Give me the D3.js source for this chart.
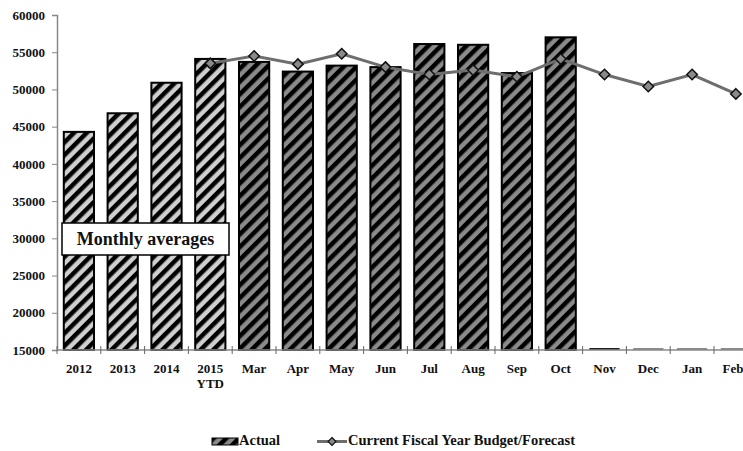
<!DOCTYPE html>
<html>
<head>
<meta charset="utf-8">
<script src="https://cdn.jsdelivr.net/npm/d3@7"></script>
<style>
  body { margin: 0; background: #fff; }
  text { font-family: "Liberation Serif", "DejaVu Serif", serif; font-weight: bold; fill: #111; }
</style>
</head>
<body>
<div id="chart"></div>
<script>
// categories along the x axis (second line of label after "|")
var categories = ["2012", "2013", "2014", "2015|YTD", "Mar", "Apr", "May", "Jun", "Jul", "Aug", "Sep", "Oct", "Nov", "Dec", "Jan", "Feb"];
// actual values (monthly averages for the years, then months); 0 = no data yet
var actual = [44300, 46800, 50900, 54100, 53700, 52400, 53200, 53000, 56100, 56000, 52200, 57000, 0, 0, 0, 0];
// budget / forecast line, starts at 2015 YTD
var budget = [null, null, null, 53500, 54500, 53400, 54800, 53000, 52000, 52600, 51700, 54100, 52000, 50400, 52000, 49400];
var yTicks = [15000, 20000, 25000, 30000, 35000, 40000, 45000, 50000, 55000, 60000];

var W = 743, H = 451;
var margin = {top: 15, left: 57};
var plotH = 335;
var band = 43.8;

var svg = d3.select("#chart").append("svg")
    .attr("width", W)
    .attr("height", H);

// hatch patterns: light for yearly averages, darker for months
var defs = svg.append("defs");
function hatch(id, stripe) {
    var p = defs.append("pattern")
        .attr("id", id)
        .attr("patternUnits", "userSpaceOnUse")
        .attr("width", 9).attr("height", 9)
        .attr("patternTransform", "rotate(45)");
    p.append("rect").attr("width", 9).attr("height", 9).attr("fill", stripe);
    p.append("rect").attr("width", 4.5).attr("height", 9).attr("fill", "#000");
}
hatch("hatchLight", "#cfcfcf");
hatch("hatchDark", "#8a8a8a");

var x = d3.scaleBand()
    .domain(categories)
    .range([margin.left, margin.left + band * categories.length])
    .paddingInner(0.31)
    .paddingOuter(0.155);

var y = d3.scaleLinear()
    .domain([15000, 60000])
    .range([margin.top + plotH, margin.top])
    .clamp(true);

// y axis
var yAxis = svg.append("g")
    .attr("transform", "translate(" + margin.left + ",0)")
    .call(d3.axisLeft(y).tickValues(yTicks).tickSize(5).tickPadding(7).tickFormat(d3.format("d")));
yAxis.select(".domain").attr("stroke", "#888").attr("stroke-width", 1.5);
yAxis.selectAll(".tick line").attr("stroke", "#888");
yAxis.selectAll("text").style("font-size", "13px").attr("fill", "#111");

// bars
var x0 = d3.scaleLinear().domain([0, categories.length]).range([margin.left, margin.left + band * categories.length]);
svg.append("g").selectAll("rect")
    .data(actual.map(function(v, i) { return {c: categories[i], v: v, i: i}; }).filter(function(d) { return d.v > 0; }))
    .enter().append("rect")
    .attr("x", function(d) { return x(d.c); })
    .attr("width", x.bandwidth())
    .attr("y", function(d) { return y(d.v); })
    .attr("height", function(d) { return y(15000) - y(d.v); })
    .attr("fill", function(d) { return d.i < 4 ? "url(#hatchLight)" : "url(#hatchDark)"; })
    .attr("stroke", "#000")
    .attr("stroke-width", 2);

// empty months: flat mark on the baseline
svg.append("g").selectAll("line")
    .data(actual.map(function(v, i) { return {c: categories[i], v: v, i: i}; }).filter(function(d) { return d.v === 0; }))
    .enter().append("line")
    .attr("x1", function(d) { return x(d.c); })
    .attr("x2", function(d) { return x(d.c) + x.bandwidth(); })
    .attr("y1", y(15000) - 1)
    .attr("y2", y(15000) - 1)
    .attr("stroke", function(d, i) { return i === 0 ? "#222" : "#666"; })
    .attr("stroke-width", function(d, i) { return i === 0 ? 2 : 1.5; });

// x axis
var xAxisG = svg.append("g").attr("transform", "translate(0," + y(15000) + ")");
xAxisG.append("line")
    .attr("x1", margin.left).attr("x2", W)
    .attr("stroke", "#888").attr("stroke-width", 1.5);
xAxisG.selectAll(".tk")
    .data(d3.range(categories.length + 1))
    .enter().append("line")
    .attr("x1", function(d) { return x0(d); })
    .attr("x2", function(d) { return x0(d); })
    .attr("y1", -4).attr("y2", 4)
    .attr("stroke", "#666");
var labels = xAxisG.selectAll(".lbl")
    .data(categories)
    .enter().append("text")
    .attr("text-anchor", "middle")
    .style("font-size", "13px");
labels.each(function(d) {
    var parts = d.split("|");
    var t = d3.select(this);
    parts.forEach(function(p, k) {
        t.append("tspan")
            .attr("x", Math.min(x(d) + x.bandwidth() / 2, W - 10))
            .attr("y", 22.5 + k * 15)
            .text(p);
    });
});

// budget/forecast line
var pts = budget.map(function(v, i) { return {c: categories[i], v: v}; }).filter(function(d) { return d.v !== null; });
var line = d3.line()
    .x(function(d) { return x(d.c) + x.bandwidth() / 2; })
    .y(function(d) { return y(d.v); });
svg.append("path")
    .datum(pts)
    .attr("fill", "none")
    .attr("stroke", "#6e6e6e")
    .attr("stroke-width", 3)
    .attr("d", line);
var diamond = d3.symbol().type(d3.symbolDiamond2).size(70);
svg.append("g").selectAll("path")
    .data(pts)
    .enter().append("path")
    .attr("d", diamond)
    .attr("transform", function(d) { return "translate(" + (x(d.c) + x.bandwidth() / 2) + "," + y(d.v) + ")"; })
    .attr("fill", "#8a8a8a")
    .attr("stroke", "#111")
    .attr("stroke-width", 1.5);

// annotation box
var note = svg.append("g");
note.append("rect")
    .attr("x", 62).attr("y", 223)
    .attr("width", 167).attr("height", 32)
    .attr("fill", "#fff").attr("stroke", "#000").attr("stroke-width", 1.5);
note.append("text")
    .attr("x", 145.5).attr("y", 245)
    .attr("text-anchor", "middle")
    .style("font-size", "18px")
    .text("Monthly averages");

// legend
var leg = svg.append("g").attr("transform", "translate(0,445)");
leg.append("rect")
    .attr("x", 212).attr("y", -7).attr("width", 26).attr("height", 7)
    .attr("fill", "url(#hatchDark)").attr("stroke", "#000").attr("stroke-width", 1);
leg.append("text").attr("x", 239).attr("y", 0).style("font-size", "14.5px").text("Actual");
leg.append("line")
    .attr("x1", 317).attr("x2", 347).attr("y1", -3.5).attr("y2", -3.5)
    .attr("stroke", "#6e6e6e").attr("stroke-width", 3);
leg.append("path")
    .attr("d", d3.symbol().type(d3.symbolDiamond2).size(40))
    .attr("transform", "translate(332,-3.5)")
    .attr("fill", "#8a8a8a").attr("stroke", "#111").attr("stroke-width", 1.2);
leg.append("text").attr("x", 348).attr("y", 0).style("font-size", "14.5px").text("Current Fiscal Year Budget/Forecast");
</script>
</body>
</html>
